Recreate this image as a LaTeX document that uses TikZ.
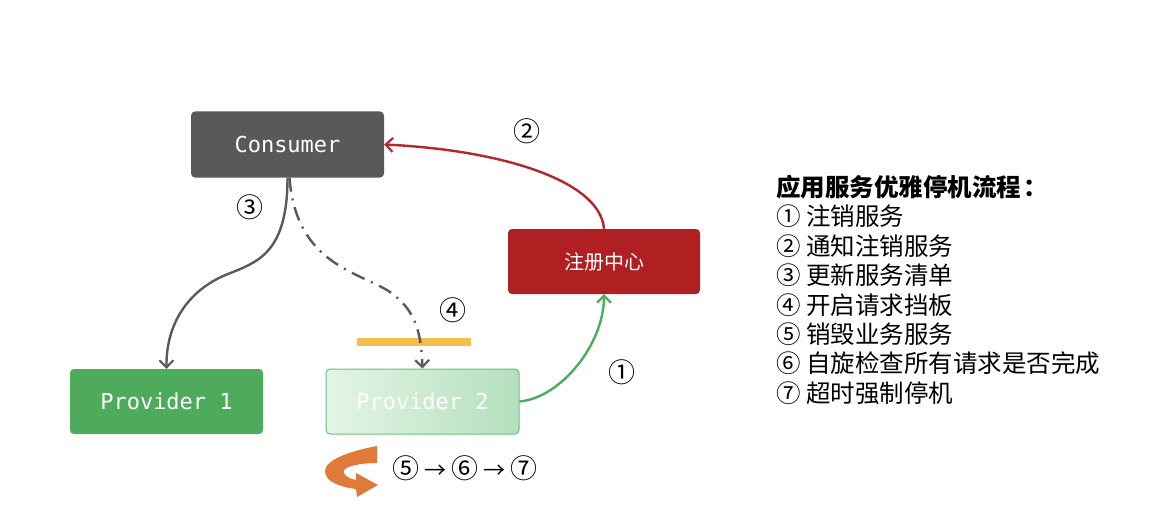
\documentclass[tikz,border=0pt]{standalone}
\usepackage{fontspec}
\setmainfont{Noto Sans CJK SC}
\newfontfamily\monof{DejaVu Sans Mono}
\usetikzlibrary{arrows.meta}
\definecolor{cgray}{HTML}{595959}
\definecolor{regred}{HTML}{B01F22}
\definecolor{pgreen}{HTML}{4EAB5C}
\definecolor{lgreenA}{HTML}{E4F5E7}
\definecolor{lgreenB}{HTML}{B4E0BD}
\definecolor{lgreenD}{HTML}{6DBF7B}
\definecolor{ygold}{HTML}{F4BE4C}
\definecolor{oarrow}{HTML}{DE7B3B}
\definecolor{lgray}{HTML}{5A5A5A}
\definecolor{rline}{HTML}{B3262A}
\definecolor{gline}{HTML}{4BAE5E}
\tikzset{
  box/.style={rounded corners=4pt, minimum width=193pt, minimum height=66pt, inner sep=0pt, text=white},
  monotext/.style={font=\monof\fontsize{22}{26}\selectfont},
  cjktext/.style={font=\fontsize{20}{24}\selectfont},
  conn/.style={line width=2.4pt, -{Straight Barb[length=7pt,width=14pt,line width=2.2pt]}},
  circ/.style={font=\fontsize{27}{30}\selectfont, inner sep=0pt},
  listline/.style={anchor=west, inner sep=0pt, font=\fontsize{24.5}{28}\selectfont},
}
\begin{document}
\begin{tikzpicture}[x=1pt,y=-1pt]
\useasboundingbox (0,0) rectangle (1164,524);
\fill[white] (0,0) rectangle (1164,524);
% nodes
\node[box, monotext, fill=cgray] (consumer) at (287.5,144.5) {Consumer};
\node[box, cjktext, fill=regred, minimum width=192pt, minimum height=65pt] (reg) at (604,261.5) {注册中心};
\node[box, monotext, fill=pgreen, minimum height=65pt] (p1) at (166.5,401.5) {Provider 1};
\node[box, monotext, left color=lgreenA, right color=lgreenB, draw=lgreenD, line width=1pt, minimum height=65pt] (p2) at (422.5,401.5) {Provider 2};
% yellow barrier
\fill[ygold] (357,338) rectangle (471,346);
% connectors
\draw[conn, draw=lgray] (consumer.south) .. controls +(0,75) and (258,262) .. (228,274)
   .. controls (192,288) and (166,320) .. (p1.north);
\draw[conn, draw=lgray, dash pattern=on 14pt off 7pt on 2pt off 7pt]
   ([xshift=2pt]consumer.south) .. controls (296,265) and (360,272) .. (390,292)
   .. controls (415,310) and (421,330) .. (p2.north);
\draw[conn, draw=rline] (reg.north) .. controls (600,180) and (500,150) .. (consumer.east);
\draw[conn, draw=gline] (p2.east) .. controls (560,398) and (604,345) .. (reg.south);
% step labels
\node[circ] (l2) at (527,131) {②};
\node[circ] (l3) at (250,207) {③};
\node[circ] (l4) at (453,310) {④};
\node[circ] (l1) at (622,372) {①};
% orange spin arrow
\fill[oarrow] (377,446) .. controls (350,451) and (324,460) .. (325,472)
   .. controls (326,482) and (340,487) .. (356,489) -- (357,497) -- (378,485) -- (356,473) -- (356,480)
   .. controls (347,478) and (341,474) .. (345,469) .. controls (350,465) and (365,463) .. (377,463) -- cycle;
\node[inner sep=0pt, font=\fontsize{27}{30}\selectfont] (seq) at (465,468) {⑤\kern5pt{\fontsize{22}{24}\selectfont→}\kern5pt⑥\kern5pt{\fontsize{22}{24}\selectfont→}\kern5pt⑦};
% legend list
\node[listline, font=\bfseries\fontsize{24.5}{28}\selectfont] (t0) at (776,187) {应用服务优雅停机流程\kern2pt：};
\node[listline] (t1) at (776,216.4) {① 注销服务};
\node[listline] (t2) at (776,245.9) {② 通知注销服务};
\node[listline] (t3) at (776,275.3) {③ 更新服务清单};
\node[listline] (t4) at (776,304.7) {④ 开启请求挡板};
\node[listline] (t5) at (776,334.1) {⑤ 销毁业务服务};
\node[listline] (t6) at (776,363.6) {⑥ 自旋检查所有请求是否完成};
\node[listline] (t7) at (776,393) {⑦ 超时强制停机};
\end{tikzpicture}
\end{document}
